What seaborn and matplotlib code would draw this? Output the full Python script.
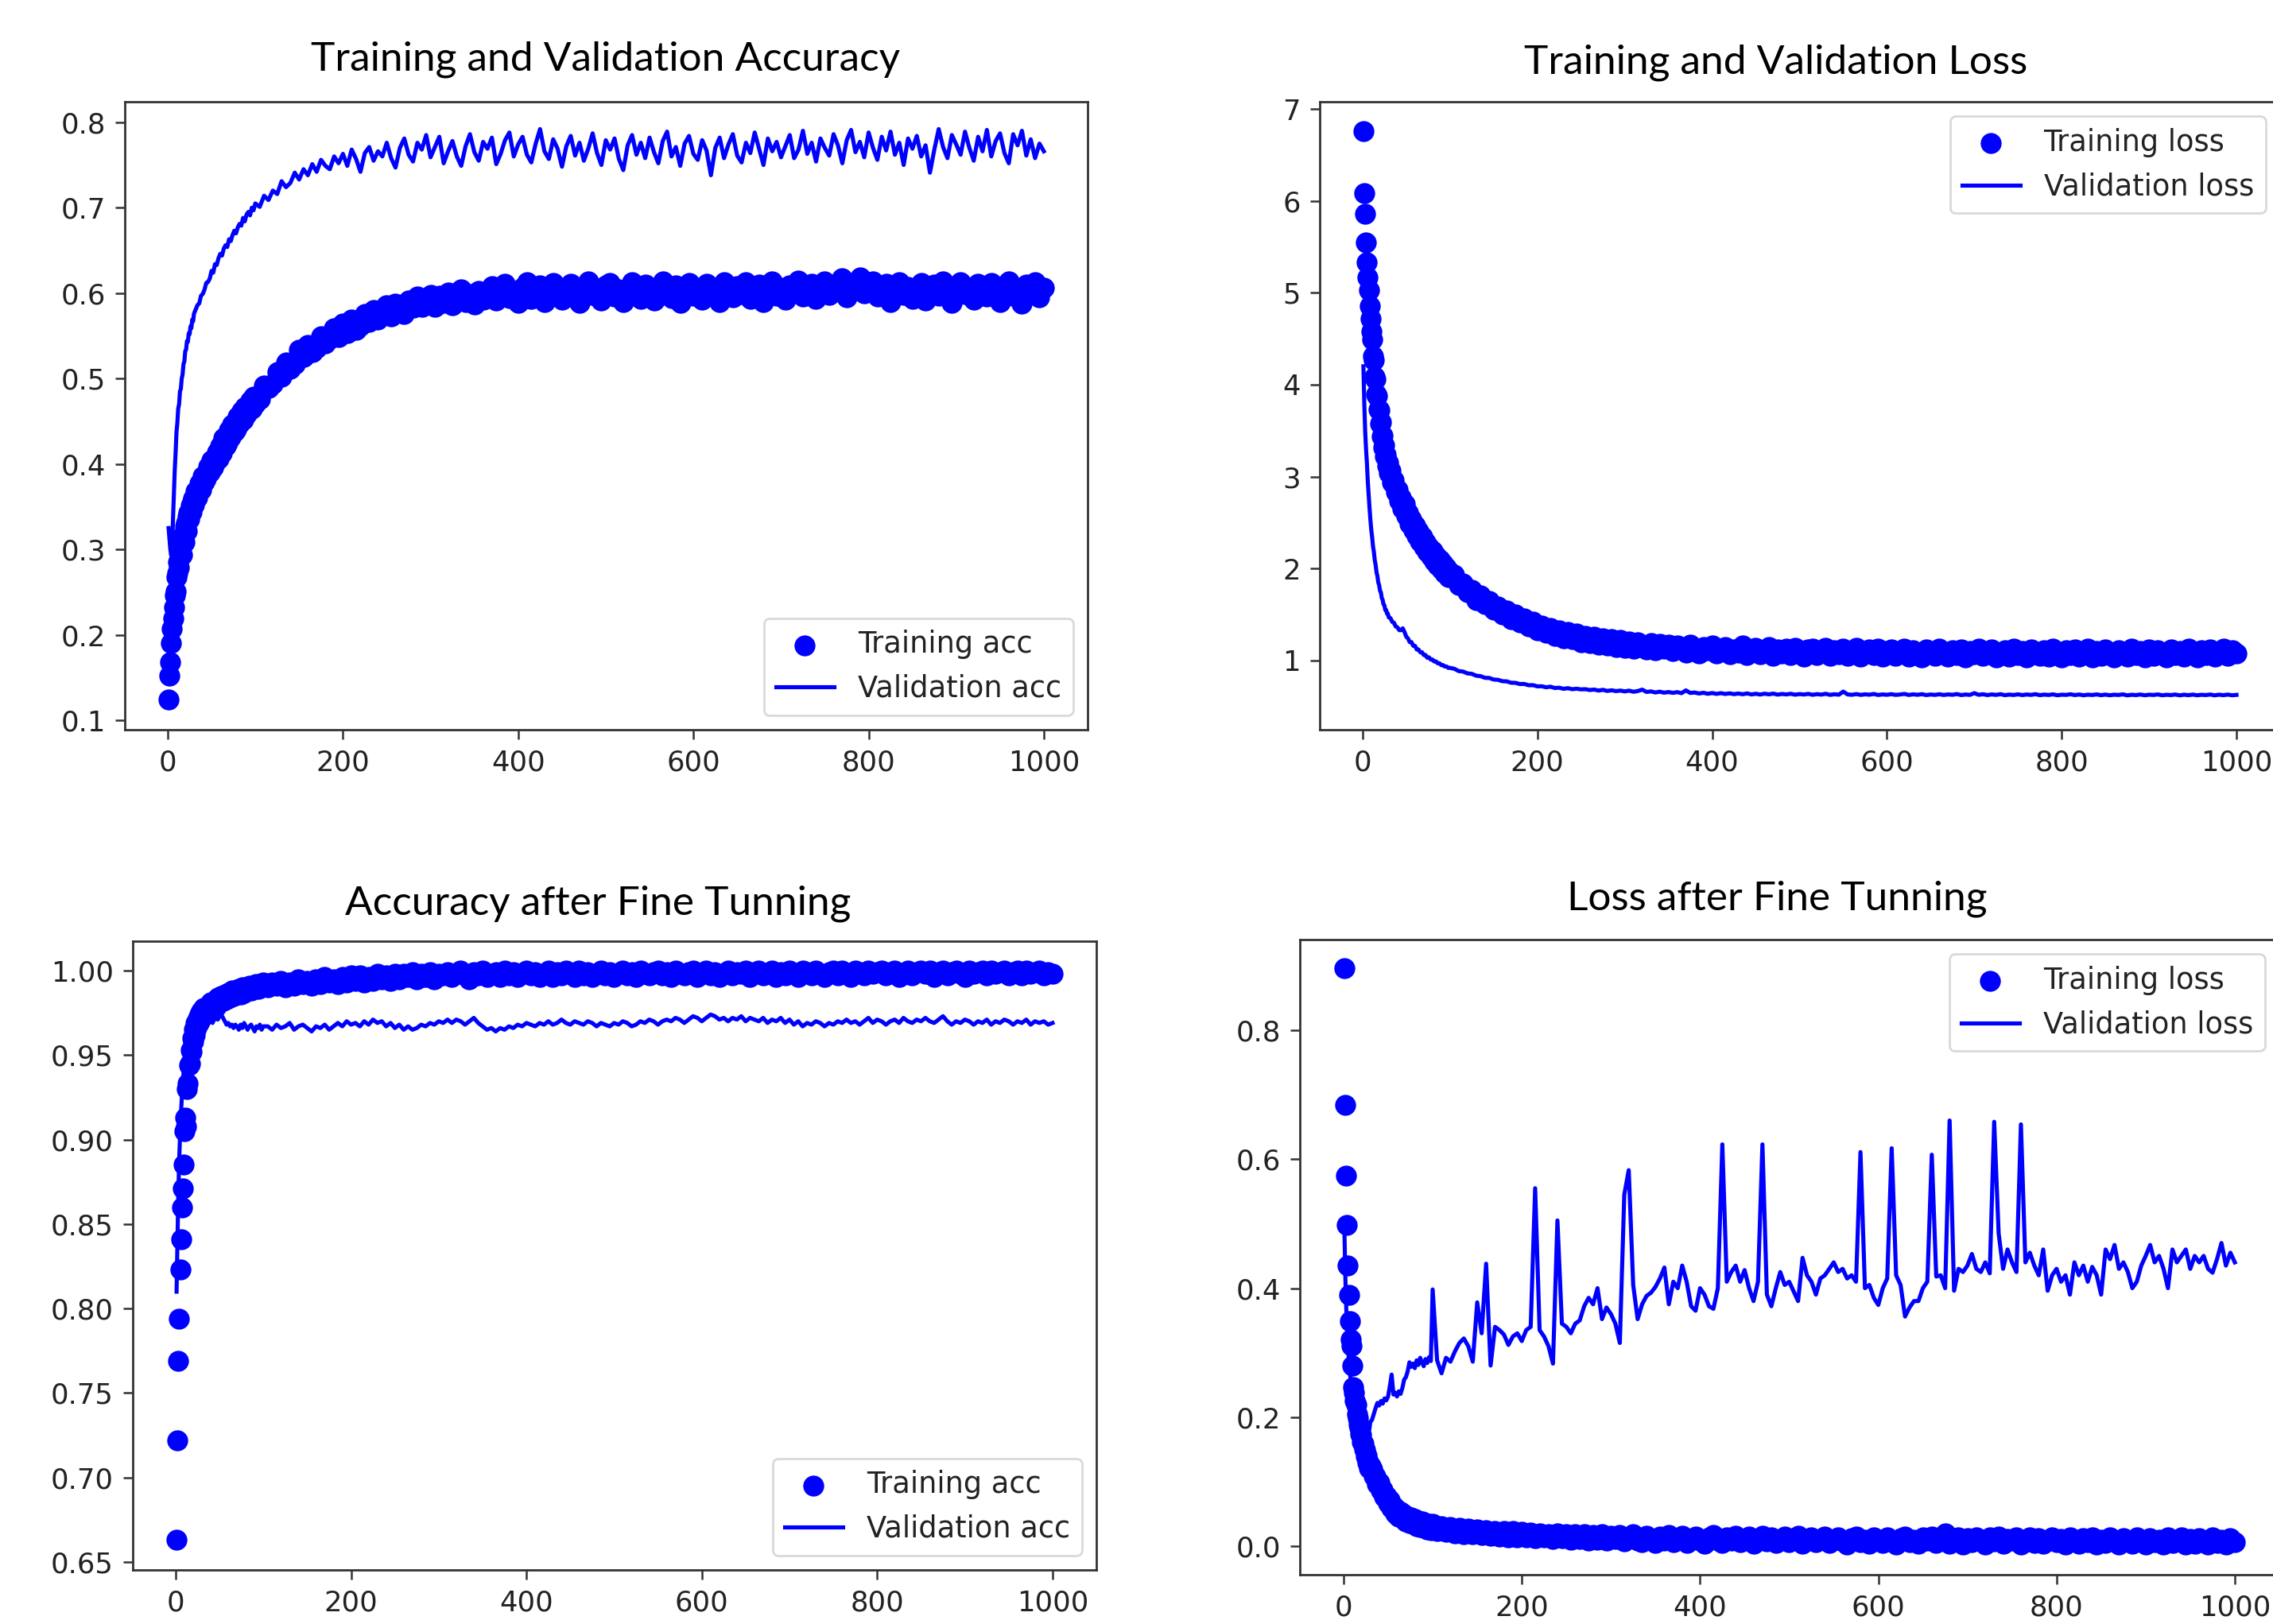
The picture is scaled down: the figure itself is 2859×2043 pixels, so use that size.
import matplotlib
matplotlib.use("Agg")
import matplotlib.pyplot as plt
import seaborn as sns

# ---------------- data ----------------
# epochs: every epoch to 30, every 2nd to 100, every 5th to 1000
epochs = list(range(1, 31)) + list(range(32, 101, 2)) + list(range(105, 1001, 5))

train_acc = [
    # 1-30
    0.124, 0.152, 0.168, 0.190, 0.207, 0.219, 0.232, 0.246, 0.251, 0.268,
    0.272, 0.285, 0.279, 0.296, 0.301, 0.294, 0.312, 0.318, 0.309, 0.327,
    0.331, 0.322, 0.338, 0.343, 0.336, 0.351, 0.344, 0.356, 0.360, 0.352,
    # 32-100
    0.368, 0.361, 0.377, 0.370, 0.386, 0.379, 0.383, 0.397, 0.390, 0.404,
    0.396, 0.401, 0.414, 0.406, 0.421, 0.413, 0.430, 0.421, 0.425, 0.440,
    0.431, 0.446, 0.438, 0.441, 0.456, 0.447, 0.462, 0.452, 0.467, 0.458,
    0.461, 0.474, 0.465, 0.479, 0.470,
    # 105-1000
    0.476, 0.492, 0.489, 0.494, 0.508, 0.502, 0.519, 0.511, 0.517, 0.534,
    0.525, 0.539, 0.531, 0.536, 0.550, 0.541, 0.547, 0.559, 0.549, 0.564,
    0.553, 0.569, 0.557, 0.562, 0.576, 0.566, 0.580, 0.569, 0.574, 0.586,
    0.573, 0.588, 0.579, 0.576, 0.591, 0.583, 0.596, 0.584, 0.590, 0.598,
    0.584, 0.597, 0.589, 0.601, 0.586, 0.593, 0.604, 0.590, 0.599, 0.587,
    0.603, 0.592, 0.596, 0.608, 0.591, 0.602, 0.611, 0.594, 0.600, 0.589,
    0.606, 0.613, 0.593, 0.601, 0.609, 0.590, 0.598, 0.612, 0.604, 0.592,
    0.600, 0.611, 0.595, 0.589, 0.606, 0.614, 0.598, 0.603, 0.591, 0.609,
    0.612, 0.596, 0.604, 0.590, 0.599, 0.613, 0.605, 0.593, 0.610, 0.598,
    0.591, 0.607, 0.614, 0.600, 0.594, 0.609, 0.589, 0.603, 0.612, 0.597,
    0.605, 0.592, 0.611, 0.598, 0.606, 0.590, 0.613, 0.601, 0.595, 0.608,
    0.599, 0.613, 0.593, 0.604, 0.610, 0.590, 0.602, 0.614, 0.597, 0.606,
    0.592, 0.609, 0.601, 0.615, 0.596, 0.604, 0.611, 0.593, 0.607, 0.614,
    0.598, 0.610, 0.603, 0.617, 0.595, 0.612, 0.606, 0.618, 0.600, 0.609,
    0.614, 0.596, 0.605, 0.611, 0.590, 0.602, 0.613, 0.598, 0.607, 0.593,
    0.604, 0.612, 0.591, 0.600, 0.610, 0.597, 0.614, 0.603, 0.589, 0.608,
    0.613, 0.599, 0.606, 0.592, 0.611, 0.603, 0.596, 0.612, 0.601, 0.590,
    0.608, 0.614, 0.597, 0.604, 0.588, 0.610, 0.602, 0.613, 0.595, 0.606,
]

val_acc = [
    0.325, 0.312, 0.300, 0.293, 0.305, 0.335, 0.365, 0.392, 0.413, 0.437,
    0.448, 0.465, 0.470, 0.485, 0.488, 0.500, 0.505, 0.517, 0.520, 0.532,
    0.534, 0.544, 0.543, 0.553, 0.552, 0.561, 0.559, 0.569, 0.567, 0.576,
    0.581, 0.586, 0.588, 0.597, 0.599, 0.604, 0.612, 0.613, 0.617, 0.626,
    0.624, 0.634, 0.633, 0.641, 0.646, 0.644, 0.652, 0.656, 0.654, 0.663,
    0.661, 0.668, 0.673, 0.670, 0.677, 0.681, 0.679, 0.688, 0.684, 0.692,
    0.695, 0.691, 0.700, 0.697, 0.705,
    0.701, 0.714, 0.709, 0.720, 0.716, 0.731, 0.724, 0.729, 0.741, 0.733,
    0.745, 0.738, 0.751, 0.742, 0.756, 0.749, 0.745, 0.760, 0.752, 0.763,
    0.749, 0.768, 0.757, 0.742, 0.764, 0.771, 0.755, 0.766, 0.760, 0.776,
    0.758, 0.747, 0.770, 0.781, 0.762, 0.754, 0.776, 0.768, 0.785, 0.759,
    0.771, 0.783, 0.752, 0.766, 0.778, 0.760, 0.749, 0.772, 0.786, 0.765,
    0.755, 0.777, 0.769, 0.782, 0.751, 0.763, 0.779, 0.788, 0.760, 0.774,
    0.783, 0.762, 0.753, 0.775, 0.792, 0.766, 0.757, 0.780, 0.769, 0.748,
    0.772, 0.784, 0.761, 0.776, 0.755, 0.769, 0.787, 0.764, 0.750, 0.779,
    0.768, 0.781, 0.757, 0.744, 0.773, 0.785, 0.762, 0.776, 0.758, 0.782,
    0.765, 0.752, 0.778, 0.789, 0.760, 0.771, 0.749, 0.775, 0.784, 0.763,
    0.756, 0.779, 0.767, 0.738, 0.770, 0.782, 0.758, 0.774, 0.786, 0.761,
    0.753, 0.776, 0.764, 0.788, 0.769, 0.750, 0.781, 0.766, 0.777, 0.759,
    0.772, 0.785, 0.758, 0.768, 0.790, 0.763, 0.776, 0.754, 0.781, 0.770,
    0.761, 0.786, 0.773, 0.752, 0.779, 0.791, 0.765, 0.777, 0.759, 0.788,
    0.770, 0.756, 0.783, 0.767, 0.789, 0.762, 0.776, 0.750, 0.781, 0.769,
    0.784, 0.760, 0.773, 0.741, 0.768, 0.792, 0.771, 0.758, 0.785, 0.774,
    0.762, 0.789, 0.770, 0.755, 0.783, 0.766, 0.791, 0.760, 0.778, 0.787,
    0.764, 0.752, 0.786, 0.773, 0.790, 0.761, 0.780, 0.758, 0.775, 0.766,
]

train_loss = [
    6.76, 6.08, 5.86, 5.55, 5.33, 5.17, 5.03, 4.86, 4.72, 4.58,
    4.49, 4.31, 4.27, 4.09, 4.06, 3.90, 3.88, 3.73, 3.72, 3.58,
    3.59, 3.44, 3.45, 3.32, 3.34, 3.22, 3.24, 3.12, 3.15, 3.04,
    3.07, 2.94, 2.96, 2.83, 2.86, 2.74, 2.77, 2.65, 2.70, 2.57,
    2.61, 2.49, 2.54, 2.42, 2.47, 2.36, 2.41, 2.30, 2.35, 2.24,
    2.29, 2.18, 2.24, 2.13, 2.19, 2.08, 2.14, 2.04, 2.10, 1.99,
    2.05, 1.95, 2.01, 1.91, 1.96,
    1.93, 1.82, 1.84, 1.74, 1.77, 1.66, 1.71, 1.61, 1.65, 1.55,
    1.59, 1.50, 1.54, 1.45, 1.50, 1.41, 1.46, 1.37, 1.42, 1.33,
    1.38, 1.30, 1.35, 1.27, 1.33, 1.24, 1.31, 1.23, 1.29, 1.20,
    1.27, 1.19, 1.26, 1.17, 1.24, 1.16, 1.23, 1.15, 1.22, 1.14,
    1.21, 1.13, 1.20, 1.15, 1.12, 1.19, 1.11, 1.18, 1.13, 1.17,
    1.10, 1.16, 1.14, 1.09, 1.17, 1.12, 1.08, 1.15, 1.11, 1.16,
    1.08, 1.13, 1.15, 1.07, 1.12, 1.09, 1.16, 1.06, 1.11, 1.14,
    1.07, 1.10, 1.15, 1.05, 1.12, 1.08, 1.13, 1.06, 1.14, 1.09,
    1.04, 1.12, 1.13, 1.06, 1.09, 1.14, 1.05, 1.11, 1.07, 1.13,
    1.05, 1.10, 1.14, 1.04, 1.08, 1.12, 1.06, 1.13, 1.04, 1.10,
    1.12, 1.05, 1.09, 1.13, 1.04, 1.11, 1.07, 1.03, 1.12, 1.08,
    1.05, 1.13, 1.09, 1.04, 1.11, 1.06, 1.12, 1.03, 1.10, 1.07,
    1.13, 1.05, 1.08, 1.12, 1.03, 1.09, 1.11, 1.04, 1.13, 1.06,
    1.10, 1.03, 1.12, 1.07, 1.05, 1.11, 1.04, 1.13, 1.08, 1.03,
    1.11, 1.06, 1.12, 1.04, 1.09, 1.13, 1.03, 1.10, 1.05, 1.12,
    1.07, 1.03, 1.11, 1.09, 1.04, 1.13, 1.06, 1.10, 1.03, 1.12,
    1.05, 1.11, 1.08, 1.03, 1.12, 1.06, 1.10, 1.04, 1.13, 1.07,
    1.03, 1.11, 1.06, 1.12, 1.04, 1.09, 1.13, 1.05, 1.11, 1.08,
]

val_loss = [
    4.20, 3.80, 3.50, 3.30, 3.15, 2.95, 2.80, 2.66, 2.53, 2.42,
    2.34, 2.24, 2.18, 2.09, 2.04, 1.96, 1.92, 1.85, 1.82, 1.76,
    1.74, 1.68, 1.66, 1.61, 1.60, 1.55, 1.55, 1.51, 1.51, 1.47,
    1.46, 1.42, 1.41, 1.37, 1.36, 1.33, 1.33, 1.35, 1.31, 1.26,
    1.24, 1.20, 1.20, 1.16, 1.16, 1.12, 1.12, 1.09, 1.09, 1.06,
    1.06, 1.03, 1.035, 1.01, 1.01, 0.99, 0.99, 0.97, 0.97, 0.95,
    0.95, 0.935, 0.935, 0.92, 0.92,
    0.910, 0.885, 0.880, 0.860, 0.855, 0.835, 0.830, 0.812, 0.810, 0.793,
    0.790, 0.775, 0.773, 0.758, 0.757, 0.744, 0.745, 0.731, 0.732, 0.719,
    0.720, 0.709, 0.715, 0.701, 0.704, 0.692, 0.699, 0.688, 0.693, 0.686,
    0.688, 0.679, 0.684, 0.673, 0.681, 0.669, 0.676, 0.667, 0.673, 0.664,
    0.672, 0.660, 0.668, 0.683, 0.658, 0.664, 0.652, 0.661, 0.650, 0.657,
    0.648, 0.656, 0.645, 0.675, 0.647, 0.652, 0.641, 0.649, 0.638, 0.646,
    0.637, 0.645, 0.636, 0.643, 0.634, 0.641, 0.633, 0.642, 0.631, 0.638,
    0.630, 0.639, 0.632, 0.640, 0.629, 0.636, 0.631, 0.638, 0.628, 0.635,
    0.630, 0.637, 0.627, 0.634, 0.629, 0.638, 0.626, 0.633, 0.628, 0.662,
    0.631, 0.627, 0.635, 0.626, 0.632, 0.628, 0.636, 0.625, 0.631, 0.627,
    0.634, 0.626, 0.630, 0.637, 0.625, 0.632, 0.627, 0.634, 0.624, 0.630,
    0.626, 0.633, 0.625, 0.631, 0.627, 0.635, 0.624, 0.630, 0.626, 0.645,
    0.627, 0.633, 0.624, 0.631, 0.626, 0.634, 0.623, 0.629, 0.625, 0.632,
    0.624, 0.630, 0.626, 0.634, 0.623, 0.629, 0.625, 0.632, 0.622, 0.628,
    0.626, 0.633, 0.624, 0.630, 0.622, 0.628, 0.625, 0.631, 0.623, 0.629,
    0.622, 0.628, 0.625, 0.632, 0.621, 0.627, 0.624, 0.630, 0.622, 0.628,
    0.625, 0.631, 0.622, 0.627, 0.624, 0.630, 0.621, 0.628, 0.623, 0.629,
    0.622, 0.627, 0.624, 0.630, 0.621, 0.628, 0.623, 0.629, 0.622, 0.626,
]

ft_train_acc = [
    0.663, 0.722, 0.769, 0.794, 0.823, 0.841, 0.860, 0.871, 0.885, 0.905,
    0.913, 0.908, 0.930, 0.933, 0.944, 0.945, 0.953, 0.952, 0.960, 0.958,
    0.965, 0.962, 0.969, 0.966, 0.972, 0.969, 0.974, 0.971, 0.976, 0.973,
    0.978, 0.974, 0.979, 0.976, 0.981, 0.978, 0.982, 0.979, 0.984, 0.981,
    0.985, 0.982, 0.986, 0.983, 0.987, 0.984, 0.988, 0.985, 0.988, 0.986,
    0.989, 0.986, 0.990, 0.987, 0.990, 0.988, 0.991, 0.988, 0.991, 0.989,
    0.992, 0.989, 0.992, 0.990, 0.993,
    0.990, 0.993, 0.991, 0.994, 0.990, 0.993, 0.991, 0.995, 0.992, 0.994,
    0.991, 0.995, 0.992, 0.996, 0.993, 0.995, 0.992, 0.996, 0.993, 0.997,
    0.994, 0.997, 0.993, 0.996, 0.994, 0.998, 0.995, 0.997, 0.994, 0.998,
    0.995, 0.998, 0.996, 0.999, 0.995, 0.998, 0.996, 0.999, 0.995, 0.998,
    0.997, 0.999, 0.996, 0.998, 1.000, 0.997, 0.995, 0.999, 0.997, 1.000,
    0.996, 0.998, 0.999, 0.996, 1.000, 0.997, 0.999, 0.996, 0.998, 1.000,
    0.997, 0.999, 0.996, 0.998, 1.000, 0.996, 0.999, 0.997, 1.000, 0.998,
    0.996, 1.000, 0.997, 0.999, 0.996, 0.998, 1.000, 0.997, 0.999, 0.996,
    0.998, 1.000, 0.997, 0.999, 0.996, 1.000, 0.998, 0.997, 0.999, 1.000,
    0.997, 0.999, 0.996, 1.000, 0.998, 0.997, 0.999, 1.000, 0.996, 0.998,
    1.000, 0.997, 0.999, 0.996, 0.998, 1.000, 0.997, 0.999, 0.998, 1.000,
    0.996, 0.999, 1.000, 0.997, 0.998, 1.000, 0.996, 0.999, 0.997, 1.000,
    0.998, 0.996, 1.000, 0.999, 0.997, 1.000, 0.998, 0.996, 0.999, 1.000,
    0.997, 1.000, 0.998, 0.996, 1.000, 0.999, 0.997, 1.000, 0.998, 0.999,
    1.000, 0.997, 0.999, 1.000, 0.996, 0.998, 1.000, 0.997, 0.999, 1.000,
    0.998, 1.000, 0.996, 0.999, 1.000, 0.997, 0.999, 1.000, 0.998, 0.996,
    1.000, 0.998, 0.999, 1.000, 0.997, 1.000, 0.998, 0.999, 1.000, 0.997,
    0.999, 1.000, 0.997, 1.000, 0.998, 0.999, 1.000, 0.997, 0.999, 0.998,
]

ft_val_acc = [
    0.810, 0.840, 0.868, 0.888, 0.903, 0.915, 0.925, 0.933, 0.940, 0.945,
    0.949, 0.952, 0.955, 0.957, 0.959, 0.961, 0.962, 0.963, 0.964, 0.965,
    0.966, 0.966, 0.967, 0.968, 0.967, 0.968, 0.969, 0.968, 0.969, 0.970,
    0.969, 0.970, 0.969, 0.971, 0.970, 0.969, 0.971, 0.972, 0.971, 0.973,
    0.974, 0.972, 0.970, 0.968, 0.969, 0.967, 0.968, 0.966, 0.968, 0.967,
    0.965, 0.968, 0.966, 0.969, 0.967, 0.965, 0.967, 0.968, 0.966, 0.964,
    0.967, 0.966, 0.968, 0.965, 0.967,
    0.967, 0.965, 0.968, 0.966, 0.967, 0.969, 0.965, 0.967, 0.968, 0.966,
    0.964, 0.967, 0.966, 0.968, 0.965, 0.967, 0.969, 0.967, 0.970, 0.968,
    0.969, 0.967, 0.970, 0.968, 0.971, 0.969, 0.970, 0.967, 0.969, 0.966,
    0.968, 0.965, 0.967, 0.965, 0.966, 0.968, 0.967, 0.969, 0.968, 0.970,
    0.969, 0.971, 0.969, 0.971, 0.970, 0.968, 0.970, 0.972, 0.969, 0.967,
    0.965, 0.966, 0.964, 0.966, 0.965, 0.967, 0.966, 0.968, 0.967, 0.969,
    0.968, 0.967, 0.969, 0.968, 0.970, 0.968, 0.969, 0.971, 0.969, 0.968,
    0.970, 0.969, 0.968, 0.970, 0.969, 0.967, 0.969, 0.968, 0.967, 0.969,
    0.968, 0.970, 0.969, 0.967, 0.968, 0.970, 0.969, 0.971, 0.970, 0.968,
    0.970, 0.971, 0.970, 0.972, 0.971, 0.969, 0.971, 0.973, 0.972, 0.970,
    0.972, 0.974, 0.973, 0.971, 0.972, 0.970, 0.972, 0.971, 0.973, 0.970,
    0.972, 0.971, 0.970, 0.972, 0.969, 0.971, 0.970, 0.972, 0.969, 0.971,
    0.968, 0.970, 0.967, 0.969, 0.968, 0.970, 0.969, 0.967, 0.969, 0.968,
    0.970, 0.969, 0.971, 0.969, 0.970, 0.968, 0.970, 0.972, 0.969, 0.971,
    0.970, 0.968, 0.970, 0.971, 0.969, 0.972, 0.970, 0.969, 0.971, 0.970,
    0.972, 0.970, 0.969, 0.971, 0.973, 0.970, 0.968, 0.970, 0.969, 0.971,
    0.970, 0.968, 0.970, 0.969, 0.971, 0.968, 0.970, 0.969, 0.971, 0.970,
    0.968, 0.970, 0.969, 0.971, 0.968, 0.970, 0.969, 0.970, 0.968, 0.969,
]

ft_train_loss = [
    0.896, 0.684, 0.575, 0.498, 0.435, 0.389, 0.349, 0.321, 0.311, 0.280,
    0.246, 0.238, 0.226, 0.219, 0.205, 0.199, 0.188, 0.184, 0.174, 0.172,
    0.161, 0.159, 0.150, 0.149, 0.139, 0.140, 0.130, 0.131, 0.121, 0.124,
    0.119, 0.108, 0.109, 0.096, 0.098, 0.086, 0.088, 0.076, 0.078, 0.066,
    0.071, 0.059, 0.062, 0.051, 0.057, 0.046, 0.053, 0.043, 0.049, 0.038,
    0.046, 0.036, 0.044, 0.034, 0.042, 0.031, 0.040, 0.030, 0.038, 0.028,
    0.036, 0.026, 0.035, 0.025, 0.034,
    0.024, 0.031, 0.022, 0.029, 0.020, 0.028, 0.019, 0.027, 0.018, 0.026,
    0.017, 0.025, 0.016, 0.024, 0.015, 0.023, 0.014, 0.024, 0.013, 0.022,
    0.014, 0.021, 0.012, 0.020, 0.013, 0.019, 0.011, 0.020, 0.012, 0.019,
    0.010, 0.018, 0.011, 0.019, 0.009, 0.017, 0.010, 0.018, 0.008, 0.016,
    0.011, 0.017, 0.007, 0.015, 0.018, 0.009, 0.006, 0.016, 0.010, 0.005,
    0.015, 0.009, 0.017, 0.006, 0.012, 0.016, 0.005, 0.010, 0.015, 0.008,
    0.004, 0.014, 0.017, 0.008, 0.005, 0.013, 0.009, 0.016, 0.006, 0.011,
    0.015, 0.004, 0.010, 0.016, 0.007, 0.013, 0.005, 0.009, 0.015, 0.006,
    0.012, 0.016, 0.004, 0.009, 0.014, 0.006, 0.011, 0.015, 0.005, 0.008,
    0.014, 0.007, 0.003, 0.012, 0.015, 0.006, 0.010, 0.004, 0.013, 0.008,
    0.005, 0.014, 0.009, 0.003, 0.012, 0.015, 0.006, 0.010, 0.004, 0.013,
    0.008, 0.015, 0.005, 0.011, 0.020, 0.004, 0.009, 0.013, 0.003, 0.012,
    0.006, 0.014, 0.010, 0.003, 0.013, 0.007, 0.015, 0.004, 0.011, 0.008,
    0.013, 0.003, 0.009, 0.014, 0.005, 0.012, 0.004, 0.010, 0.014, 0.006,
    0.011, 0.002, 0.013, 0.008, 0.004, 0.012, 0.006, 0.014, 0.003, 0.010,
    0.005, 0.013, 0.009, 0.002, 0.012, 0.007, 0.004, 0.013, 0.008, 0.003,
    0.012, 0.006, 0.010, 0.002, 0.013, 0.005, 0.009, 0.014, 0.003, 0.011,
    0.004, 0.012, 0.007, 0.002, 0.013, 0.005, 0.010, 0.003, 0.012, 0.006,
]

ft_val_loss = [
    0.490, 0.420, 0.372, 0.335, 0.312, 0.290, 0.272, 0.258, 0.250, 0.240,
    0.233, 0.224, 0.219, 0.211, 0.207, 0.199, 0.196, 0.189, 0.187, 0.181,
    0.180, 0.174, 0.173, 0.169, 0.168, 0.174, 0.172, 0.185, 0.181, 0.192,
    0.196, 0.205, 0.214, 0.222, 0.218, 0.225, 0.221, 0.229, 0.226, 0.232,
    0.248, 0.266, 0.235, 0.238, 0.232, 0.240, 0.236, 0.245, 0.258, 0.262,
    0.271, 0.285, 0.278, 0.283, 0.276, 0.288, 0.281, 0.292, 0.285, 0.279,
    0.290, 0.284, 0.293, 0.287, 0.398,
    0.288, 0.268, 0.292, 0.286, 0.302, 0.315, 0.322, 0.310, 0.286, 0.378,
    0.330, 0.438, 0.280, 0.340, 0.335, 0.328, 0.312, 0.325, 0.330, 0.318,
    0.335, 0.340, 0.555, 0.335, 0.325, 0.310, 0.283, 0.505, 0.345, 0.340,
    0.330, 0.345, 0.350, 0.372, 0.385, 0.375, 0.400, 0.352, 0.370, 0.360,
    0.345, 0.315, 0.545, 0.583, 0.405, 0.352, 0.375, 0.388, 0.393, 0.402,
    0.415, 0.432, 0.375, 0.410, 0.400, 0.435, 0.410, 0.372, 0.365, 0.400,
    0.390, 0.372, 0.368, 0.400, 0.623, 0.410, 0.425, 0.435, 0.410, 0.428,
    0.400, 0.380, 0.410, 0.623, 0.390, 0.372, 0.400, 0.425, 0.405, 0.410,
    0.395, 0.380, 0.447, 0.420, 0.410, 0.390, 0.415, 0.420, 0.430, 0.440,
    0.425, 0.430, 0.415, 0.420, 0.410, 0.611, 0.400, 0.405, 0.385, 0.374,
    0.400, 0.415, 0.617, 0.420, 0.405, 0.356, 0.370, 0.380, 0.380, 0.400,
    0.410, 0.607, 0.418, 0.420, 0.400, 0.660, 0.396, 0.430, 0.425, 0.435,
    0.453, 0.430, 0.425, 0.440, 0.423, 0.658, 0.485, 0.430, 0.460, 0.440,
    0.425, 0.654, 0.440, 0.455, 0.435, 0.420, 0.460, 0.396, 0.420, 0.430,
    0.410, 0.420, 0.390, 0.440, 0.420, 0.435, 0.410, 0.433, 0.420, 0.390,
    0.460, 0.445, 0.467, 0.430, 0.440, 0.425, 0.400, 0.410, 0.435, 0.450,
    0.467, 0.440, 0.450, 0.430, 0.400, 0.460, 0.440, 0.450, 0.460, 0.430,
    0.450, 0.440, 0.450, 0.430, 0.424, 0.445, 0.470, 0.435, 0.455, 0.440,
]

titles = ["Training and Validation Accuracy", "Training and Validation Loss",
          "Accuracy after Fine Tunning", "Loss after Fine Tunning"]
acc_labels = ["Training acc", "Validation acc"]
loss_labels = ["Training loss", "Validation loss"]
xtick_values = [0, 200, 400, 600, 800, 1000]

# ---------------- figure ----------------
W, H = 2859, 2043
fig = plt.figure(figsize=(W / 100, H / 100), dpi=100)
fig.patch.set_facecolor("white")


def rect(left, top, right, bottom):
    return [left / W, (H - bottom) / H, (right - left) / W, (bottom - top) / H]


panels = [
    dict(r=rect(157, 128, 1368, 918), tr=train_acc, va=val_acc, lab=acc_labels,
         ylim=(0.089, 0.824), yt=[0.1, 0.2, 0.3, 0.4, 0.5, 0.6, 0.7, 0.8], fmt="{:.1f}",
         loc="lower right", title=titles[0], tx=762, ty=89),
    dict(r=rect(1660, 128, 2868, 918), tr=train_loss, va=val_loss, lab=loss_labels,
         ylim=(0.247, 7.078), yt=[1, 2, 3, 4, 5, 6, 7], fmt="{:d}",
         loc="upper right", title=titles[1], tx=2234, ty=93),
    dict(r=rect(167, 1184, 1379, 1975), tr=ft_train_acc, va=ft_val_acc, lab=acc_labels,
         ylim=(0.6453, 1.0174), yt=[0.65, 0.70, 0.75, 0.80, 0.85, 0.90, 0.95, 1.00], fmt="{:.2f}",
         loc="lower right", title=titles[2], tx=752, ty=1150),
    dict(r=rect(1635, 1182, 2867, 1981), tr=ft_train_loss, va=ft_val_loss, lab=loss_labels,
         ylim=(-0.0444, 0.9406), yt=[0.0, 0.2, 0.4, 0.6, 0.8], fmt="{:.1f}",
         loc="upper right", title=titles[3], tx=2235, ty=1145),
]

for p in panels:
    ax = fig.add_axes(p["r"])
    n = min(len(epochs), len(p["tr"]), len(p["va"]))
    ep = epochs[:n]
    sns.scatterplot(x=ep, y=p["tr"][:n], ax=ax, color="blue", s=360,
                    linewidth=0, edgecolor="blue", label=p["lab"][0], zorder=2)
    sns.lineplot(x=ep, y=p["va"][:n], ax=ax, color="blue", linewidth=3.7,
                 label=p["lab"][1], sort=False, estimator=None, zorder=3)
    ax.set_xlim(-48.95, 1049.95)
    ax.set_ylim(*p["ylim"])
    ax.set_xticks(xtick_values)
    ax.set_xticklabels([str(v) for v in xtick_values])
    ax.set_yticks(p["yt"])
    ax.set_yticklabels([p["fmt"].format(v) for v in p["yt"]])
    ax.set_xlabel("")
    ax.set_ylabel("")
    ax.tick_params(axis="both", labelsize=25.5, length=8.5, width=1.8, pad=9,
                   colors="#333333", labelcolor="#222222")
    for s in ax.spines.values():
        s.set_linewidth(2.0)
        s.set_color("#333333")
    ax.set_facecolor("white")
    leg = ax.legend(loc=p["loc"], fontsize=26.5, frameon=True, borderaxespad=0.5,
                    handlelength=2.0, handletextpad=0.8, borderpad=0.4, labelspacing=0.5)
    leg.get_frame().set_linewidth(2.0)
    leg.get_frame().set_edgecolor("#d0d0d0")
    for t in leg.get_texts():
        t.set_color("#222222")
    fig.text(p["tx"] / W, 1 - p["ty"] / H, p["title"], ha="center", va="baseline",
             fontsize=37, family=["Lato", "DejaVu Sans"], color="black")

fig.savefig("out.png", dpi=100, facecolor="white")
